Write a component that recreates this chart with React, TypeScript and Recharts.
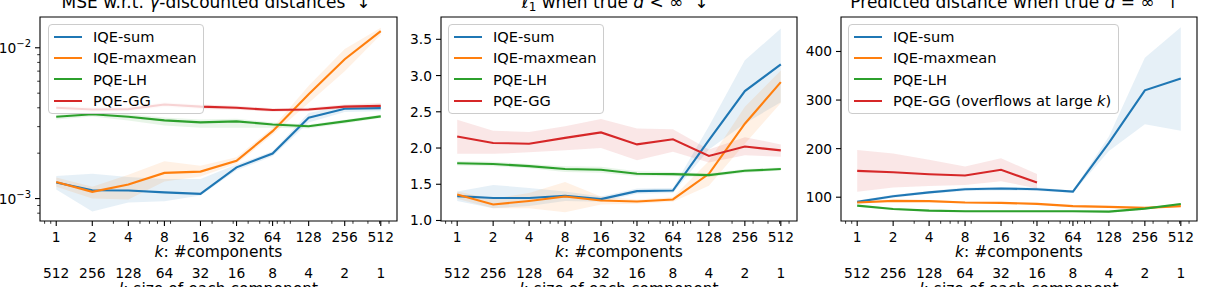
import React from 'react';
import { ComposedChart, Line, Area, XAxis, YAxis, ReferenceArea, Legend } from 'recharts';

// ---------- categories / tick labels ----------
const K_VALUES = [1, 2, 4, 8, 16, 32, 64, 128, 256, 512];
const L_VALUES = [512, 256, 128, 64, 32, 16, 8, 4, 2, 1];
const X_MINOR = [0.8, 0.9, 3, 5, 6, 7, 9, 20, 30, 40, 50, 60, 70, 80, 90, 200, 300, 400, 500, 600];
const SERIES_KEYS = ['sum', 'maxmean', 'lh', 'gg'];
const SERIES_NAMES = ['IQE-sum', 'IQE-maxmean', 'PQE-LH', 'PQE-GG'];
const COLORS = ['#1f77b4', '#ff7f0e', '#2ca02c', '#d62728'];

// ---------- panel 1: MSE w.r.t. gamma-discounted distances (log) ----------
const mseSum = [1.28e-3, 1.135e-3, 1.13e-3, 1.1e-3, 1.075e-3, 1.61e-3, 1.99e-3, 3.44e-3, 3.94e-3, 3.98e-3];
const mseSumLo = [1.15e-3, 8.2e-4, 9.4e-4, 9.6e-4, 1.05e-3, 1.54e-3, 1.91e-3, 3.2e-3, 3.75e-3, 3.8e-3];
const mseSumHi = [1.41e-3, 1.46e-3, 1.39e-3, 1.35e-3, 1.35e-3, 1.68e-3, 2.06e-3, 3.7e-3, 4.15e-3, 4.15e-3];
const mseMax = [1.29e-3, 1.108e-3, 1.24e-3, 1.48e-3, 1.51e-3, 1.78e-3, 2.8e-3, 4.91e-3, 8.39e-3, 1.29e-2];
const mseMaxLo = [1.2e-3, 1.0e-3, 9.85e-4, 1.3e-3, 1.4e-3, 1.7e-3, 2.65e-3, 4.3e-3, 7.0e-3, 1.22e-2];
const mseMaxHi = [1.38e-3, 1.2e-3, 1.44e-3, 1.77e-3, 1.65e-3, 1.88e-3, 2.95e-3, 5.6e-3, 9.8e-3, 1.36e-2];
const mseLH = [3.49e-3, 3.62e-3, 3.49e-3, 3.3e-3, 3.2e-3, 3.25e-3, 3.1e-3, 3.02e-3, 3.25e-3, 3.51e-3];
const mseLHLo = [3.35e-3, 3.5e-3, 3.3e-3, 3.05e-3, 2.95e-3, 2.95e-3, 2.95e-3, 2.92e-3, 3.15e-3, 3.42e-3];
const mseLHHi = [3.6e-3, 3.72e-3, 3.62e-3, 3.45e-3, 3.35e-3, 3.38e-3, 3.2e-3, 3.1e-3, 3.33e-3, 3.6e-3];
const mseGG = [4.0e-3, 3.9e-3, 3.92e-3, 4.21e-3, 4.07e-3, 4.0e-3, 3.87e-3, 3.9e-3, 4.07e-3, 4.12e-3];
const mseGGLo = [3.85e-3, 3.75e-3, 3.78e-3, 4.05e-3, 3.93e-3, 3.88e-3, 3.77e-3, 3.8e-3, 3.95e-3, 3.98e-3];
const mseGGHi = [4.15e-3, 4.05e-3, 4.07e-3, 4.35e-3, 4.2e-3, 4.12e-3, 3.97e-3, 4.0e-3, 4.2e-3, 4.3e-3];
const MSE_TICKS = [8e-4, 9e-4, 1e-3, 2e-3, 3e-3, 4e-3, 5e-3, 6e-3, 7e-3, 8e-3, 9e-3, 1e-2];
const MSE_MAJOR = [1e-3, 1e-2];

// ---------- panel 2: l1 when true d < inf ----------
const l1Sum = [1.336, 1.31, 1.31, 1.34, 1.295, 1.405, 1.414, 2.11, 2.786, 3.155];
const l1SumLo = [1.27, 1.17, 1.2, 1.27, 1.26, 1.37, 1.38, 1.98, 2.34, 2.63];
const l1SumHi = [1.4, 1.49, 1.45, 1.4, 1.33, 1.44, 1.45, 2.3, 3.21, 3.65];
const l1Max = [1.36, 1.22, 1.27, 1.33, 1.276, 1.262, 1.29, 1.645, 2.335, 2.91];
const l1MaxLo = [1.3, 1.17, 1.17, 1.115, 1.22, 1.23, 1.26, 1.48, 2.06, 2.62];
const l1MaxHi = [1.4, 1.3, 1.38, 1.53, 1.33, 1.29, 1.32, 1.82, 2.57, 3.07];
const l1LH = [1.79, 1.78, 1.75, 1.71, 1.7, 1.645, 1.64, 1.626, 1.686, 1.71];
const l1LHLo = [1.76, 1.75, 1.72, 1.67, 1.66, 1.61, 1.61, 1.6, 1.66, 1.69];
const l1LHHi = [1.82, 1.81, 1.78, 1.75, 1.74, 1.68, 1.67, 1.65, 1.71, 1.73];
const l1GG = [2.16, 2.07, 2.06, 2.14, 2.215, 2.05, 2.12, 1.89, 2.02, 1.967];
const l1GGLo = [1.92, 1.92, 1.94, 1.97, 2.0, 1.83, 1.95, 1.8, 1.9, 1.88];
const l1GGHi = [2.39, 2.24, 2.22, 2.3, 2.4, 2.27, 2.26, 1.98, 2.15, 2.05];
const L1_TICKS = [1.0, 1.5, 2.0, 2.5, 3.0, 3.5];

// ---------- panel 3: predicted distance when true d = inf ----------
const infSum = [90.3, 102, 110, 116.5, 117.8, 116.5, 111.6, 212, 320, 344.6];
const infSumLo = [87, 99, 107, 113, 114, 113, 109, 195, 250, 237];
const infSumHi = [93, 105, 113, 120, 121, 120, 114, 225, 387, 450];
const infMax = [89, 92.4, 92, 89, 88.3, 86.3, 81.6, 80, 78, 81.6];
const infMaxLo = [87, 90.5, 90, 87, 86.3, 84.3, 79.6, 78, 76, 79.6];
const infMaxHi = [91, 94.4, 94, 91, 90.3, 88.3, 83.6, 82, 80, 83.6];
const infLH = [82.6, 75.8, 72.3, 71, 71, 71, 71, 70.3, 76.5, 86];
const infLHLo = [80.6, 74, 70.5, 69, 69, 69, 69, 68.5, 74.5, 84];
const infLHHi = [84.6, 77.6, 74.1, 73, 73, 73, 73, 72.1, 78.5, 88];
const infGG = [154.3, 151.5, 147.4, 144.7, 156.4, 130.4, null, null, null, null];
const infGGLo = [111, 120, 123, 125, 133, 118, null, null, null, null];
const infGGHi = [197, 190, 177, 163, 180, 148, null, null, null, null];
const INF_TICKS = [100, 200, 300, 400];

const FONT = 'DejaVu Sans';
const X_DOMAIN: [number, number] = [0.732, 699.4];

type Num = number | null;

function buildRows(means: Num[][], los: Num[][], his: Num[][]) {
  return K_VALUES.map((k, i) => {
    const row: any = { k };
    SERIES_KEYS.forEach((key, s) => {
      row[key] = means[s][i];
      const lo = los[s][i];
      const hi = his[s][i];
      row[key + 'Band'] = lo == null || hi == null ? null : [lo, hi];
    });
    return row;
  });
}

const rowsMse = buildRows([mseSum, mseMax, mseLH, mseGG], [mseSumLo, mseMaxLo, mseLHLo, mseGGLo], [mseSumHi, mseMaxHi, mseLHHi, mseGGHi]);
const rowsL1 = buildRows([l1Sum, l1Max, l1LH, l1GG], [l1SumLo, l1MaxLo, l1LHLo, l1GGLo], [l1SumHi, l1MaxHi, l1LHHi, l1GGHi]);
const rowsInf = buildRows([infSum, infMax, infLH, infGG], [infSumLo, infMaxLo, infLHLo, infGGLo], [infSumHi, infMaxHi, infLHHi, infGGHi]);

const XTick = (props: any) => {
  const { x, y, payload } = props;
  const v = payload.value;
  const major = K_VALUES.includes(v);
  return (
    <g>
      <line x1={x} x2={x} y1={y} y2={y + (major ? 5 : 2.8)} stroke="#000" strokeWidth={major ? 1.1 : 0.8} />
      {major && (
        <text x={x} y={y + 20.5} textAnchor="middle" fontSize={13.8} fontFamily={FONT} fill="#000">
          {v}
        </text>
      )}
    </g>
  );
};

const LTick = (props: any) => {
  const { x, y, payload } = props;
  const idx = K_VALUES.indexOf(payload.value);
  return (
    <text x={x} y={y + 16} textAnchor="middle" fontSize={13.8} fontFamily={FONT} fill="#000">
      {idx >= 0 ? L_VALUES[idx] : ''}
    </text>
  );
};

const makeYTick = (majors: number[], fmt: (v: number) => React.ReactNode) => (props: any) => {
  const { x, y, payload } = props;
  const v = payload.value;
  const major = majors.some((m) => Math.abs(m - v) < 1e-12);
  return (
    <g>
      <line x1={x - (major ? 5 : 2.8)} x2={x} y1={y} y2={y} stroke="#000" strokeWidth={major ? 1.1 : 0.8} />
      {major && (
        <text x={x - 9} y={y} dy="0.36em" textAnchor="end" fontSize={13.8} fontFamily={FONT} fill="#000">
          {fmt(v)}
        </text>
      )}
    </g>
  );
};

const fmtPow = (v: number) => {
  const e = Math.round(Math.log10(v));
  return (
    <>
      10
      <tspan dy="-0.55em" fontSize="0.72em">{'\u2212' + Math.abs(e)}</tspan>
    </>
  );
};

const kLabel = (p: any) => {
  const vb = p.viewBox || {};
  return (
    <text x={vb.x + vb.width / 2} y={vb.y + 36} textAnchor="middle" fontSize={15.5} fontFamily={FONT} fill="#000">
      <tspan fontStyle="italic">k</tspan>: #components
    </text>
  );
};

const lLabel = (p: any) => {
  const vb = p.viewBox || {};
  return (
    <text x={vb.x + vb.width / 2} y={vb.y + 32} textAnchor="middle" fontSize={15.5} fontFamily={FONT} fill="#000">
      <tspan fontStyle="italic">l</tspan>: size of each component
    </text>
  );
};

const LegendBox = ({ labels }: { labels: React.ReactNode[] }) => (
  <div
    style={{
      display: 'inline-block',
      border: '1px solid #cccccc',
      borderRadius: 4,
      background: 'rgba(255,255,255,0.8)',
      padding: '1px 7px 2px 5px',
      fontFamily: FONT,
      fontSize: 14.6,
      color: '#000',
      whiteSpace: 'nowrap',
    }}
  >
    {labels.map((lab, i) => (
      <div key={i} style={{ display: 'flex', alignItems: 'center', height: 21.3 }}>
        <div style={{ width: 28, height: 0, borderTop: `2.1px solid ${COLORS[i]}`, marginRight: 11 }} />
        <span>{lab}</span>
      </div>
    ))}
  </div>
);

interface PanelProps {
  left: number;
  width: number;
  yWidth: number;
  rightMargin: number;
  rows: any[];
  yScale: 'log' | 'linear';
  yDomain: [number, number];
  yTicks: number[];
  yMajor: number[];
  yFmt: (v: number) => React.ReactNode;
  legendLabels: React.ReactNode[];
}

const Panel = (p: PanelProps) => {
  const YTick = makeYTick(p.yMajor, p.yFmt);
  return (
    <div style={{ position: 'absolute', left: p.left, top: 0 }}>
      <ComposedChart width={p.width} height={287} data={p.rows} margin={{ top: 17, right: p.rightMargin, bottom: 0, left: 0 }}>
        <XAxis
          xAxisId="k"
          dataKey="k"
          type="number"
          scale="log"
          domain={X_DOMAIN}
          allowDataOverflow
          ticks={[...K_VALUES, ...X_MINOR]}
          interval={0}
          tick={(t: any) => <XTick {...t} />}
          tickLine={false}
          axisLine={false}
          tickSize={0}
          tickMargin={0}
          height={41}
          label={kLabel}
        />
        <XAxis
          xAxisId="l"
          dataKey="k"
          type="number"
          scale="log"
          domain={X_DOMAIN}
          allowDataOverflow
          ticks={K_VALUES}
          interval={0}
          tick={(t: any) => <LTick {...t} />}
          tickLine={false}
          axisLine={false}
          tickSize={0}
          tickMargin={0}
          height={25}
          label={lLabel}
        />
        <YAxis
          yAxisId="y"
          type="number"
          scale={p.yScale}
          domain={p.yDomain}
          allowDataOverflow
          ticks={p.yTicks}
          interval={0}
          tick={(t: any) => <YTick {...t} />}
          tickLine={false}
          axisLine={false}
          tickSize={0}
          tickMargin={0}
          width={p.yWidth}
        />
        {SERIES_KEYS.map((key, i) => (
          <Area
            key={'a' + key}
            xAxisId="k"
            yAxisId="y"
            dataKey={key + 'Band'}
            type="linear"
            stroke="none"
            fill={COLORS[i]}
            fillOpacity={0.11}
            isAnimationActive={false}
            legendType="none"
            connectNulls={false}
            activeDot={false}
          />
        ))}
        {SERIES_KEYS.map((key, i) => (
          <Line
            key={'l' + key}
            xAxisId="k"
            yAxisId="y"
            dataKey={key}
            name={SERIES_NAMES[i]}
            type="linear"
            stroke={COLORS[i]}
            strokeWidth={2.1}
            dot={false}
            activeDot={false}
            isAnimationActive={false}
            connectNulls={false}
          />
        ))}
        <ReferenceArea
          xAxisId="k"
          yAxisId="y"
          x1={X_DOMAIN[0]}
          x2={X_DOMAIN[1]}
          y1={p.yDomain[0]}
          y2={p.yDomain[1]}
          fill="none"
          fillOpacity={0}
          stroke="#000"
          strokeWidth={1.1}
          ifOverflow="visible"
        />
        <Legend
          layout="vertical"
          align="center"
          verticalAlign="middle"
          wrapperStyle={{ left: 48, top: 24, width: 'auto', height: 'auto' }}
          content={() => <LegendBox labels={p.legendLabels} />}
        />
      </ComposedChart>
    </div>
  );
};

const Titles = () => (
  <svg width={1207} height={287} style={{ position: 'absolute', left: 0, top: 0, pointerEvents: 'none' }}>
    <text x={216} y={8} textAnchor="middle" fontSize={17} fontFamily={FONT} fill="#000">
      MSE w.r.t. <tspan fontStyle="italic">γ</tspan>-discounted distances{'\u00a0\u00a0'}↓
    </text>
    <text x={615} y={8} textAnchor="middle" fontSize={17} fontFamily={FONT} fill="#000">
      <tspan fontStyle="italic">ℓ</tspan>
      <tspan dy={3} fontSize={12}>1</tspan>
      <tspan dy={-3}> when true </tspan>
      <tspan fontStyle="italic">d</tspan>
      <tspan>{'\u00a0<\u00a0∞\u00a0\u00a0↓'}</tspan>
    </text>
    <text x={1015} y={8} textAnchor="middle" fontSize={17} fontFamily={FONT} fill="#000">
      Predicted distance when true <tspan fontStyle="italic">d</tspan>
      <tspan>{'\u00a0=\u00a0∞\u00a0\u00a0↑'}</tspan>
    </text>
  </svg>
);

const legendPlain = SERIES_NAMES;
const legendInf: React.ReactNode[] = [
  SERIES_NAMES[0],
  SERIES_NAMES[1],
  SERIES_NAMES[2],
  <>
    PQE-GG (overflows at large <i>k</i>)
  </>,
];

export default function App() {
  return (
    <div style={{ position: 'absolute', left: 0, top: 0, width: 1207, height: 287, overflow: 'hidden', background: '#fff', fontFamily: FONT }}>
      <Panel
        left={0}
        width={400}
        yWidth={40}
        rightMargin={3}
        rows={rowsMse}
        yScale="log"
        yDomain={[7.1e-4, 1.6e-2]}
        yTicks={MSE_TICKS}
        yMajor={MSE_MAJOR}
        yFmt={fmtPow}
        legendLabels={legendPlain}
      />
      <Panel
        left={400}
        width={400}
        yWidth={41}
        rightMargin={3}
        rows={rowsL1}
        yScale="linear"
        yDomain={[0.993, 3.808]}
        yTicks={L1_TICKS}
        yMajor={L1_TICKS}
        yFmt={(v) => v.toFixed(1)}
        legendLabels={legendPlain}
      />
      <Panel
        left={800}
        width={407}
        yWidth={41}
        rightMargin={10}
        rows={rowsInf}
        yScale="linear"
        yDomain={[51, 471]}
        yTicks={INF_TICKS}
        yMajor={INF_TICKS}
        yFmt={(v) => String(v)}
        legendLabels={legendInf}
      />
      <Titles />
    </div>
  );
}
